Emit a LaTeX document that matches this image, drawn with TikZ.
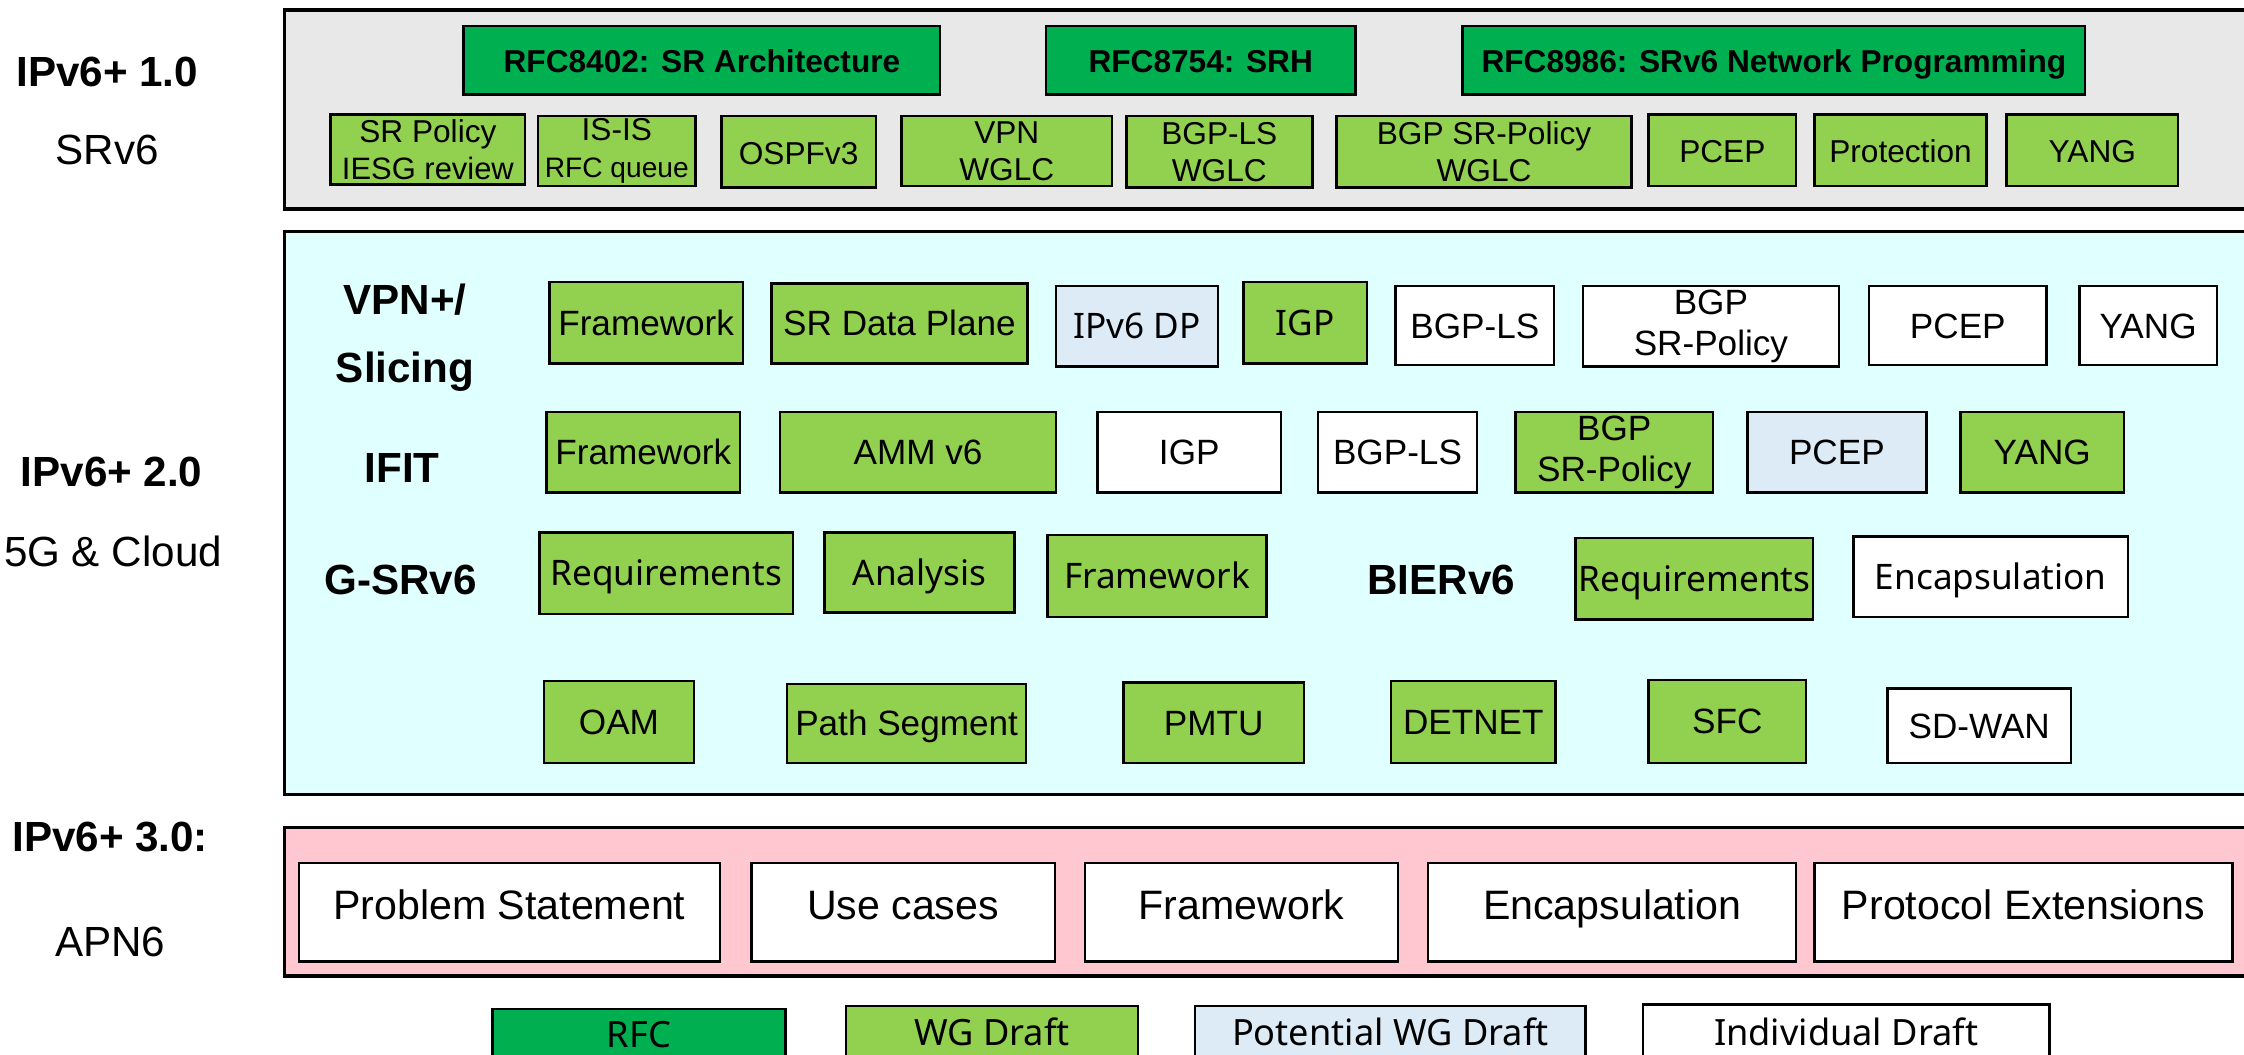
\documentclass[tikz,border=0pt]{standalone}
\usepackage{fontspec}
\setmainfont{Liberation Sans}
\newfontfamily\yh{Noto Sans}
\definecolor{rfcgreen}{HTML}{00B050}
\definecolor{wggreen}{HTML}{92D050}
\definecolor{potblue}{HTML}{DDEBF7}
\definecolor{layergray}{HTML}{E8E8E8}
\definecolor{layercyan}{HTML}{E0FFFF}
\definecolor{layerpink}{HTML}{FFC8D0}
\def\u{0.01431cm}
% box by its corners: name, x1, y1, x2, y2, style, text
\newcommand\bx[7]{\node[#6, minimum width={(#4-#2)*\u}, minimum height={(#5-#3)*\u}] (#1) at ({(#2+#4)/2},{(#3+#5)/2}) {#7};}
\tikzset{
  layer/.style={draw=black, line width=0.9pt},
  box/.style={draw=black, line width=0.7pt, inner sep=0pt, align=center},
  % single line labels: capitals centred in the box
  oneline/.style={text height=0.9em, text depth=0.184em},
  rfc/.style={box, oneline, fill=rfcgreen, font=\fontsize{9}{11}\selectfont\bfseries},
  wgone/.style={box, fill=wggreen, font=\fontsize{9}{10.5}\selectfont},
  wg/.style={box, fill=wggreen, font=\fontsize{10}{11.5}\selectfont},
  pot/.style={box, fill=potblue, font=\fontsize{10}{11.5}\selectfont},
  ind/.style={box, fill=white, font=\fontsize{10}{11.5}\selectfont},
  apn/.style={box, fill=white, text height=0.75em, text depth=0.33em, font=\fontsize{11.7}{14}\selectfont},
  legend/.style={box, oneline, font=\fontsize{10.3}{12}\selectfont\yh},
  title/.style={font=\fontsize{12}{14}\selectfont\bfseries, inner sep=0pt},
  sub/.style={font=\fontsize{12}{14}\selectfont, inner sep=0pt},
  group/.style={font=\fontsize{12}{14}\selectfont\bfseries, inner sep=0pt, align=center},
}
\begin{document}
\begin{tikzpicture}[x=\u, y=-\u]
\path[use as bounding box] (0,0) rectangle (1568,737);
\clip (0,0) rectangle (1568,737);

% layer frames
\draw[layer, fill=layergray] (199,7) rectangle (1590,146);
\draw[layer, fill=layercyan] (199,162) rectangle (1590,555);
\draw[layer, fill=layerpink] (199,578) rectangle (1590,682);

% side titles
\node[title] (t1) at (75,50) {IPv6+ 1.0};
\node[sub]   (s1) at (75,105) {SRv6};
\node[title] (t2) at (78,330) {IPv6+ 2.0};
\node[sub]   (s2) at (79,385) {5G \& Cloud};
\node[title] (t3) at (77,585) {IPv6+ 3.0:};
\node[sub]   (s3) at (77,658) {APN6};

% IPv6+ 1.0: RFCs
\bx{rfcA}{324}{18}{657}{66}{rfc}{RFC8402: SR Architecture}
\bx{rfcB}{731}{18}{947}{66}{rfc}{RFC8754: SRH}
\bx{rfcC}{1022}{18}{1457}{66}{rfc}{RFC8986: SRv6 Network Programming}

% IPv6+ 1.0: drafts
\bx{srp}{231}{80}{367}{129}{wgone}{SR Policy\\{\fontsize{8.8}{10}\selectfont IESG review}}
\bx{isis}{376}{81}{486}{130}{wgone}{IS-IS\\{\fontsize{8}{10}\selectfont RFC queue}}
\bx{ospf}{504}{81}{612}{131}{wgone, oneline}{OSPFv3}
\bx{vpn}{630}{81}{777}{130}{wgone}{VPN\\WGLC}
\bx{bgpls}{787}{81}{917}{131}{wgone}{BGP-LS\\WGLC}
\bx{bgpsr}{934}{81}{1140}{131}{wgone}{BGP SR-Policy\\WGLC}
\bx{pcep}{1152}{80}{1255}{130}{wgone, oneline}{PCEP}
\bx{prot}{1268}{80}{1388}{130}{wgone, oneline}{Protection}
\bx{yang}{1402}{80}{1522}{130}{wgone, oneline}{YANG}

% IPv6+ 2.0: group labels
\node[group] (gvpn) at (283,236) {VPN+/\\[5.5pt]Slicing};
\node[group] (gifit) at (281,327) {IFIT};
\node[group] (ggsr) at (280,405) {G-SRv6};
\node[group] (gbier) at (1007,405) {BIERv6};

% VPN+/Slicing
\bx{vA}{384}{197}{519}{254}{wg, oneline}{Framework}
\bx{vB}{539}{198}{718}{254}{wg, oneline}{SR Data Plane}
\bx{vC}{738}{200}{851}{256}{pot, oneline}{\yh IPv6 DP}
\bx{vD}{869}{197}{955}{254}{wg, oneline}{\yh IGP}
\bx{vE}{975}{200}{1086}{255}{ind, oneline}{BGP-LS}
\bx{vF}{1106}{200}{1285}{256}{ind}{BGP\\SR-Policy}
\bx{vG}{1306}{200}{1430}{255}{ind, oneline}{PCEP}
\bx{vH}{1453}{200}{1549}{255}{ind, oneline}{YANG}

% IFIT
\bx{iA}{382}{288}{517}{344}{wg, oneline}{Framework}
\bx{iB}{545}{288}{738}{344}{wg, oneline}{AMM v6}
\bx{iC}{767}{288}{895}{344}{ind, oneline}{IGP}
\bx{iD}{921}{288}{1032}{344}{ind, oneline}{BGP-LS}
\bx{iE}{1059}{288}{1197}{344}{wg}{BGP\\SR-Policy}
\bx{iF}{1221}{288}{1346}{344}{pot, oneline}{PCEP}
\bx{iG}{1370}{288}{1484}{344}{wg, oneline}{YANG}

% G-SRv6 and BIERv6
\bx{gA}{377}{372}{554}{429}{wg, oneline}{\yh Requirements}
\bx{gB}{576}{372}{709}{428}{wg, oneline}{\yh Analysis}
\bx{gC}{732}{374}{885}{431}{wg, oneline}{\yh Framework}
\bx{bA}{1101}{376}{1267}{433}{wg, oneline}{\yh Requirements}
\bx{bB}{1295}{375}{1487}{431}{ind, oneline}{\yh Encapsulation}

% other work items
\bx{oA}{380}{476}{485}{533}{wg, oneline}{OAM}
\bx{oB}{550}{478}{717}{533}{wg, oneline}{Path Segment}
\bx{oC}{785}{477}{911}{533}{wg, oneline}{PMTU}
\bx{oD}{972}{476}{1087}{533}{wg, oneline}{DETNET}
\bx{oE}{1152}{475}{1262}{533}{wg, oneline}{SFC}
\bx{oF}{1319}{481}{1447}{533}{ind, oneline}{SD-WAN}

% IPv6+ 3.0: APN6
\bx{aA}{209}{603}{503}{672}{apn}{Problem Statement}
\bx{aB}{525}{603}{737}{672}{apn}{Use cases}
\bx{aC}{758}{603}{977}{672}{apn}{Framework}
\bx{aD}{998}{603}{1255}{672}{apn}{Encapsulation}
\bx{aE}{1268}{603}{1560}{672}{apn}{Protocol Extensions}

% legend
\bx{lA}{344}{705}{549}{741}{legend, fill=rfcgreen}{RFC}
\bx{lB}{591}{703}{795}{741}{legend, fill=wggreen}{WG Draft}
\bx{lC}{835}{703}{1108}{741}{legend, fill=potblue}{Potential WG Draft}
\bx{lD}{1148}{702}{1432}{741}{legend, fill=white}{Individual Draft}
\end{tikzpicture}
\end{document}
